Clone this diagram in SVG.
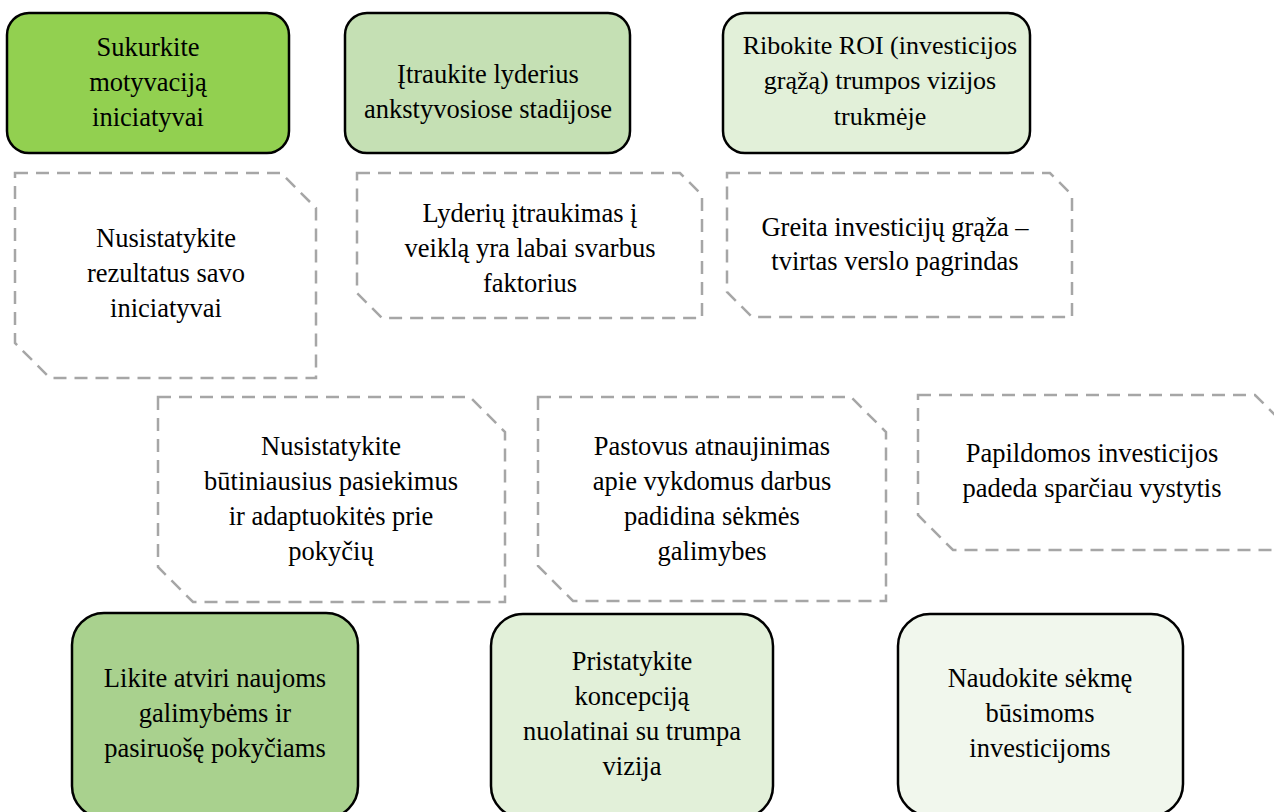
<svg xmlns="http://www.w3.org/2000/svg" width="1274" height="812" viewBox="0 0 1274 812">
<style>
.box{stroke:#000;stroke-width:2.5}
.oct{fill:#fff;stroke:#a6a6a6;stroke-width:2.5;stroke-dasharray:13 8}
</style>
<rect width="1274" height="812" fill="#fff"/>
<g id="connectors"></g>
<g font-family="Liberation Serif, Times New Roman, DejaVu Serif, serif" font-size="26.5" text-anchor="middle" fill="#000">
<g id="n1"><rect class="box" x="7" y="13" width="282" height="140" rx="22" fill="#92d050"/>
<text x="148" y="56">Sukurkite</text><text x="148" y="91">motyvaciją</text><text x="148" y="126">iniciatyvai</text></g>
<g id="n2"><rect class="box" x="345" y="13" width="285" height="140" rx="22" fill="#c5e0b4"/>
<text x="488" y="83">Įtraukite lyderius</text><text x="488" y="118">ankstyvosiose stadijose</text></g>
<g id="n3"><rect class="box" x="723" y="13" width="307" height="140" rx="22" fill="#e2f0d9"/>
<g font-size="26"><text x="880" y="54">Ribokite ROI (investicijos</text><text x="880" y="89">grąžą) trumpos vizijos</text><text x="880" y="125">trukmėje</text></g></g>
<g id="n4"><path class="oct" d="M15 173H281L316 208V378H50L15 343Z"/>
<text x="166" y="247">Nusistatykite</text><text x="166" y="282">rezultatus savo</text><text x="166" y="317">iniciatyvai</text></g>
<g id="n5"><path class="oct" d="M357 173H680L702 195V318H382L357 293Z"/>
<text x="530" y="222">Lyderių įtraukimas į</text><text x="530" y="257">veiklą yra labai svarbus</text><text x="530" y="292">faktorius</text></g>
<g id="n6"><path class="oct" d="M727 173H1050L1072 195V317H752L727 292Z"/>
<text x="895" y="236">Greita investicijų grąža –</text><text x="895" y="270">tvirtas verslo pagrindas</text></g>
<g id="n7"><path class="oct" d="M158 397H470L505 432V602H193L158 567Z"/>
<text x="331" y="455">Nusistatykite</text><text x="331" y="490">būtiniausius pasiekimus</text><text x="331" y="525">ir adaptuokitės prie</text><text x="331" y="560">pokyčių</text></g>
<g id="n8"><path class="oct" d="M538 397H851L886 432V601H573L538 566Z"/>
<text x="712" y="455">Pastovus atnaujinimas</text><text x="712" y="490">apie vykdomus darbus</text><text x="712" y="525">padidina sėkmės</text><text x="712" y="560">galimybes</text></g>
<g id="n9"><path class="oct" d="M918 395H1255L1290 430V550H953L918 515Z"/>
<text x="1092" y="462">Papildomos investicijos</text><text x="1092" y="497">padeda sparčiau vystytis</text></g>
<g id="n10"><rect class="box" x="72" y="613" width="286" height="205" rx="32" fill="#a9d18e"/>
<text x="215" y="687">Likite atviri naujoms</text><text x="215" y="722">galimybėms ir</text><text x="215" y="757">pasiruošę pokyčiams</text></g>
<g id="n11"><rect class="box" x="491" y="614" width="282" height="204" rx="32" fill="#e2f0d9"/>
<text x="632" y="670">Pristatykite</text><text x="632" y="705">koncepciją</text><text x="632" y="740">nuolatinai su trumpa</text><text x="632" y="775">vizija</text></g>
<g id="n12"><rect class="box" x="898" y="614" width="285" height="202" rx="32" fill="#f1f7ed"/>
<text x="1040" y="687">Naudokite sėkmę</text><text x="1040" y="722">būsimoms</text><text x="1040" y="757">investicijoms</text></g>
</g>
</svg>
